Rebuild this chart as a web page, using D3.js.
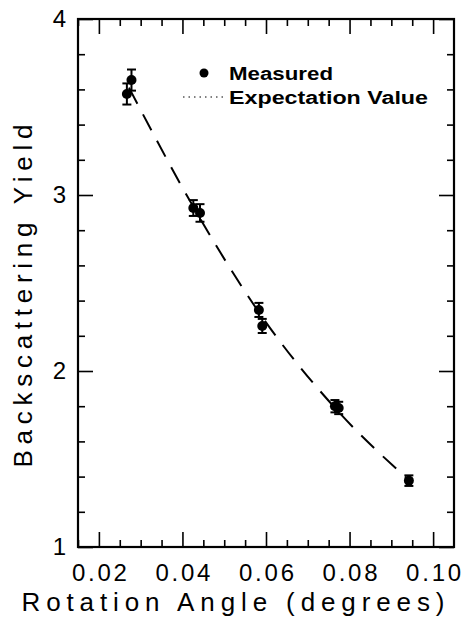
<!DOCTYPE html>
<html>
<head>
<meta charset="utf-8">
<script src="https://cdn.jsdelivr.net/npm/d3@7"></script>
<style>
  html, body { margin: 0; padding: 0; background: #fff; }
  svg { display: block; }
  .tick line { stroke: #000; stroke-width: 1.6px; }
  .tick text { font-family: "Liberation Sans", Arial, sans-serif; fill: #000; }
  .domain { display: none; }
</style>
</head>
<body>
<script>
// Measured backscattering yield vs. rotation angle
const angles = [0.0267, 0.0278, 0.0426, 0.0442, 0.0583, 0.0591, 0.0765, 0.0774, 0.0942];
const yields = [3.574, 3.653, 2.926, 2.898, 2.347, 2.256, 1.800, 1.790, 1.377];
const errors = [0.060, 0.060, 0.045, 0.050, 0.040, 0.040, 0.035, 0.035, 0.030];

// Expectation value curve
const expAngles = [0.0272, 0.0434, 0.0587, 0.0769, 0.0942];
const expYields = [3.61, 2.90, 2.32, 1.78, 1.38];

// Axis ticks
const xMajorTicks = [0.02, 0.04, 0.06, 0.08, 0.10];
const xMinorTicks = [0.015, 0.025, 0.03, 0.035, 0.045, 0.05, 0.055, 0.065, 0.07, 0.075, 0.085, 0.09, 0.095];
const yMajorTicks = [1, 2, 3, 4];
const yMinorTicks = [1.2, 1.4, 1.6, 1.8, 2.2, 2.4, 2.6, 2.8, 3.2, 3.4, 3.6, 3.8];

const W = 461, H = 620;
const plot = { left: 78, right: 454, top: 19, bottom: 547 };

const svg = d3.select("body").append("svg").attr("width", W).attr("height", H);

const x = d3.scaleLinear().domain([0.015, 0.105]).range([plot.left, plot.right]);
const y = d3.scaleLinear().domain([1, 4]).range([plot.bottom, plot.top]);

const fmtX = d3.format(".2f");

// bottom axis
svg.append("g").attr("transform", `translate(0,${plot.bottom})`)
  .call(d3.axisBottom(x).tickValues(xMinorTicks).tickSizeInner(-7).tickSizeOuter(0).tickFormat(""));
svg.append("g").attr("transform", `translate(0,${plot.bottom})`)
  .call(d3.axisBottom(x).tickValues(xMajorTicks).tickSizeInner(-15).tickSizeOuter(0).tickPadding(17).tickFormat(fmtX))
  .selectAll("text").attr("font-size", 24).attr("textLength", 55).attr("lengthAdjust", "spacing");

// top axis
svg.append("g").attr("transform", `translate(0,${plot.top})`)
  .call(d3.axisTop(x).tickValues(xMinorTicks).tickSizeInner(-7).tickSizeOuter(0).tickFormat(""));
svg.append("g").attr("transform", `translate(0,${plot.top})`)
  .call(d3.axisTop(x).tickValues(xMajorTicks).tickSizeInner(-15).tickSizeOuter(0).tickFormat(""));

// left axis
svg.append("g").attr("transform", `translate(${plot.left},0)`)
  .call(d3.axisLeft(y).tickValues(yMinorTicks).tickSizeInner(-7).tickSizeOuter(0).tickFormat(""));
svg.append("g").attr("transform", `translate(${plot.left},0)`)
  .call(d3.axisLeft(y).tickValues(yMajorTicks).tickSizeInner(-15).tickSizeOuter(0).tickPadding(12).tickFormat(d3.format("d")))
  .selectAll("text").attr("font-size", 24);

// right axis
svg.append("g").attr("transform", `translate(${plot.right},0)`)
  .call(d3.axisRight(y).tickValues(yMinorTicks).tickSizeInner(-7).tickSizeOuter(0).tickFormat(""));
svg.append("g").attr("transform", `translate(${plot.right},0)`)
  .call(d3.axisRight(y).tickValues(yMajorTicks).tickSizeInner(-15).tickSizeOuter(0).tickFormat(""));

// frame
svg.append("rect")
  .attr("x", plot.left).attr("y", plot.top)
  .attr("width", plot.right - plot.left).attr("height", plot.bottom - plot.top)
  .attr("fill", "none").attr("stroke", "#000").attr("stroke-width", 2.2);

// expectation curve (dashed)
const line = d3.line().x((d, i) => x(expAngles[i])).y((d, i) => y(expYields[i])).curve(d3.curveMonotoneX);
svg.append("path").datum(expAngles)
  .attr("d", line)
  .attr("fill", "none").attr("stroke", "#000").attr("stroke-width", 2)
  .attr("stroke-dasharray", "18,12");

// measured points with error bars
const pts = svg.append("g");
angles.forEach((a, i) => {
  const cx = x(a);
  const lo = y(yields[i] - errors[i]), hi = y(yields[i] + errors[i]);
  pts.append("line").attr("x1", cx).attr("x2", cx).attr("y1", lo).attr("y2", hi)
    .attr("stroke", "#000").attr("stroke-width", 2);
  [lo, hi].forEach(v => pts.append("line")
    .attr("x1", cx - 4.5).attr("x2", cx + 4.5).attr("y1", v).attr("y2", v)
    .attr("stroke", "#000").attr("stroke-width", 2));
  pts.append("circle").attr("cx", cx).attr("cy", y(yields[i])).attr("r", 5).attr("fill", "#000");
});

// legend
const lg = svg.append("g").attr("font-family", "'Liberation Sans', Arial, sans-serif").attr("font-weight", "bold").attr("font-size", 18);
lg.append("circle").attr("cx", 204).attr("cy", 73).attr("r", 4.5).attr("fill", "#000");
lg.append("text").attr("x", 229).attr("y", 80).text("Measured")
  .attr("textLength", 104).attr("lengthAdjust", "spacingAndGlyphs");
lg.append("line").attr("x1", 183).attr("x2", 223).attr("y1", 97).attr("y2", 97)
  .attr("stroke", "#000").attr("stroke-width", 1).attr("stroke-dasharray", "1.5,4");
lg.append("text").attr("x", 229).attr("y", 104).text("Expectation Value")
  .attr("textLength", 199).attr("lengthAdjust", "spacingAndGlyphs");

// axis titles
svg.append("text")
  .attr("x", 233).attr("y", 611).attr("text-anchor", "middle")
  .attr("font-family", "'Liberation Sans', Arial, sans-serif").attr("font-size", 26)
  .attr("textLength", 423).attr("lengthAdjust", "spacing")
  .text("Rotation Angle (degrees)");

svg.append("text")
  .attr("transform", `translate(32,296) rotate(-90)`).attr("text-anchor", "middle")
  .attr("font-family", "'Liberation Sans', Arial, sans-serif").attr("font-size", 26)
  .attr("textLength", 343).attr("lengthAdjust", "spacing")
  .text("Backscattering Yield");
</script>
</body>
</html>
